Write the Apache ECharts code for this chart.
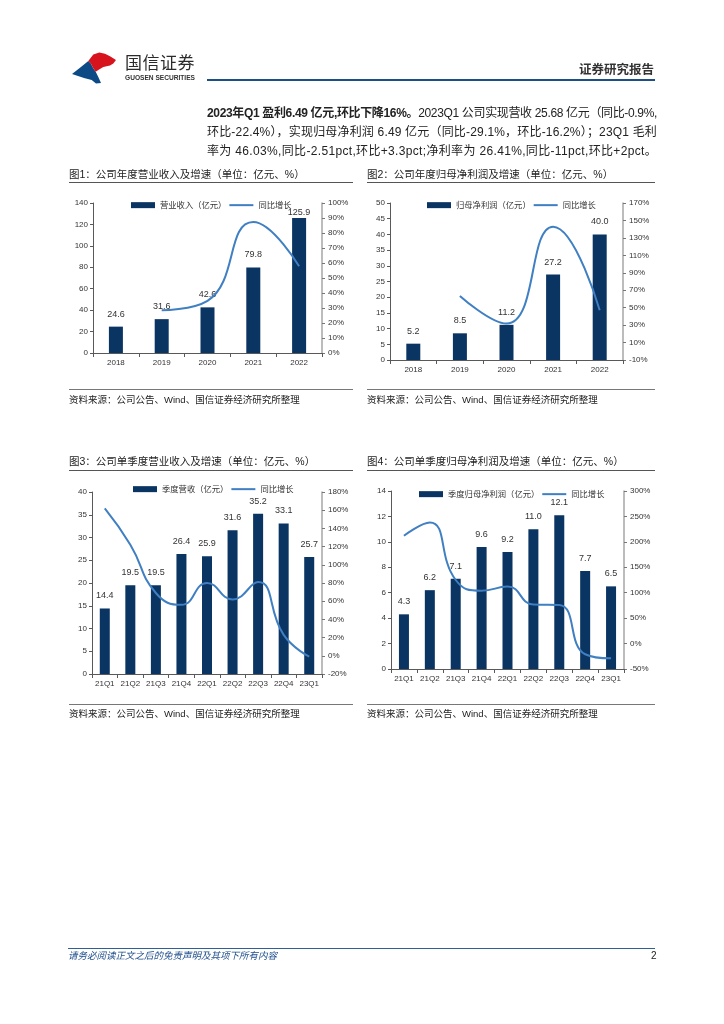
<!DOCTYPE html>
<html>
<head>
<meta charset="utf-8">
<script src="https://cdn.jsdelivr.net/npm/echarts@6/dist/echarts.min.js"></script>
<style>
html,body{margin:0;padding:0;background:#fff;}
#page{position:relative;width:724px;height:1024px;overflow:hidden;font-family:"Liberation Sans","Noto Sans CJK SC",sans-serif;color:#222;}
#chart{position:absolute;left:0;top:0;width:724px;height:1024px;}
.t{position:absolute;white-space:nowrap;line-height:1;}
.para{position:absolute;left:207px;font-size:12px;line-height:1;white-space:nowrap;color:#222;}
.hr{position:absolute;height:0;}
</style>
</head>
<body>
<div id="page">
  <div id="chart"></div>
</div>
<script>
// ---------- data ----------
var years = ['2018', '2019', '2020', '2021', '2022'];
var annualRevenue = [24.6, 31.6, 42.6, 79.8, 125.9];
var annualRevenueYoY = [null, 28.5, 34.8, 87.3, 57.8];
var annualProfit = [5.2, 8.5, 11.2, 27.2, 40.0];
var annualProfitYoY = [null, 63.5, 31.8, 142.9, 47.1];
var quarters = ['21Q1', '21Q2', '21Q3', '21Q4', '22Q1', '22Q2', '22Q3', '22Q4', '23Q1'];
var quarterRevenue = [14.4, 19.5, 19.5, 26.4, 25.9, 31.6, 35.2, 33.1, 25.7];
var quarterRevenueYoY = [162, 122, 69, 56, 80, 62, 81, 23, -0.9];
var quarterProfit = [4.3, 6.2, 7.1, 9.6, 9.2, 11.0, 12.1, 7.7, 6.5];
var quarterProfitYoY = [212, 238, 125, 104, 112, 77, 76, -21, -29.1];

var seriesNames = [
  ['营业收入（亿元）', '同比增长'],
  ['归母净利润（亿元）', '同比增长'],
  ['季度营收（亿元）', '同比增长'],
  ['季度归母净利润（亿元）', '同比增长']
];
var chartTitles = [
  '图1：公司年度营业收入及增速（单位：亿元、%）',
  '图2：公司年度归母净利润及增速（单位：亿元、%）',
  '图3：公司单季度营业收入及增速（单位：亿元、%）',
  '图4：公司单季度归母净利润及增速（单位：亿元、%）'
];
var sourceText = '资料来源：公司公告、Wind、国信证券经济研究所整理';
var leftAxes = [[0, 140, 20], [0, 50, 5], [0, 40, 5], [0, 14, 2]];
var rightTicks = [
  [0, 10, 20, 30, 40, 50, 60, 70, 80, 90, 100],
  [-10, 10, 30, 50, 70, 90, 110, 130, 150, 170],
  [-20, 0, 20, 40, 60, 80, 100, 120, 140, 160, 180],
  [-50, 0, 50, 100, 150, 200, 250, 300]
];
var paraLines = [
  '<b>2023年Q1 盈利6.49 亿元,环比下降16%。</b>2023Q1 公司实现营收 25.68 亿元（同比-0.9%,',
  '环比-22.4%），实现归母净利润 6.49 亿元（同比-29.1%，环比-16.2%）；23Q1 毛利',
  '率为 46.03%,同比-2.51pct,环比+3.3pct;净利率为 26.41%,同比-11pct,环比+2pct。'
];

// ---------- page text (HTML) ----------
var page = document.getElementById('page');
function addText(html, left, top, style) {
  var d = document.createElement('div');
  d.className = 't';
  d.innerHTML = html;
  d.style.left = left + 'px';
  d.style.top = top + 'px';
  if (style) d.setAttribute('style', d.getAttribute('style') + ';' + style);
  page.appendChild(d);
  return d;
}
function addLine(x1, x2, y, color, w) {
  var d = document.createElement('div');
  d.className = 'hr';
  d.style.left = x1 + 'px';
  d.style.width = (x2 - x1) + 'px';
  d.style.top = (y - w / 2) + 'px';
  d.style.borderTop = w + 'px solid ' + color;
  page.appendChild(d);
}
// header
addText('国信证券', 125, 53, 'font-size:17px;color:#2b2b2b;letter-spacing:0.5px;font-family:"Noto Sans CJK SC";');
addText('GUOSEN SECURITIES', 125, 75, 'font-size:6.6px;font-weight:bold;color:#333;');
addText('证券研究报告', 579, 63, 'font-size:12.5px;font-weight:bold;color:#333;font-family:"Noto Sans CJK SC";');
addLine(207, 655, 80, '#1d4f86', 2.5);
// paragraph, each line fitted to the column width
var paraWidth = 450;
paraLines.forEach(function (s, i) {
  var d = document.createElement('div');
  d.className = 'para';
  d.style.top = (107 + i * 19) + 'px';
  d.innerHTML = s;
  page.appendChild(d);
  var w = d.getBoundingClientRect().width;
  var n = d.textContent.length;
  d.style.letterSpacing = ((paraWidth - w) / n) + 'px';
});
// chart titles / source
var blocks = [
  {x: 69, x2: 353, ty: 169, uy: 183, sy: 390, st: 395},
  {x: 367, x2: 655, ty: 169, uy: 183, sy: 390, st: 395},
  {x: 69, x2: 353, ty: 456, uy: 471, sy: 705, st: 709},
  {x: 367, x2: 655, ty: 456, uy: 471, sy: 705, st: 709}
];
blocks.forEach(function (b, i) {
  addText(chartTitles[i], b.x, b.ty, 'font-size:10.5px;color:#222;');
  addLine(b.x, b.x2, b.uy, '#555', 1.2);
  addLine(b.x, b.x2, b.sy, '#777', 1.5);
  addText(sourceText, b.x, b.st, 'font-size:9.5px;color:#222;');
});
// footer
addLine(68, 655, 948, '#2e6096', 1);
addText('请务必阅读正文之后的免责声明及其项下所有内容', 68, 951, 'font-size:9.5px;font-style:italic;color:#1f4e8c;');
addText('2', 651, 951, 'font-size:10px;color:#222;');

// ---------- chart ----------
var chart = echarts.init(document.getElementById('chart'), null, {renderer: 'canvas'});
var BAR = '#0a3462';
var LINE = '#3f7fc2';
var grids = [
  {left: 93, top: 203, width: 229, height: 150},
  {left: 390, top: 203, width: 233, height: 157},
  {left: 92, top: 492, width: 230, height: 182},
  {left: 391, top: 491, width: 233, height: 178}
];
var cats = [years, years, quarters, quarters];
var barData = [annualRevenue, annualProfit, quarterRevenue, quarterProfit];
var lineData = [annualRevenueYoY, annualProfitYoY, quarterRevenueYoY, quarterProfitYoY];
var barWidths = [14, 14, 10, 10];
var legendPos = [[131, 201], [427, 201], [133, 485], [419, 490]];
var lineIcon = 'path://M0,0 L0,0 M0,2 L24,2 L24,4 L0,4 Z M24,6 L24,6';

var xAxes = [], yAxes = [], series = [], legends = [];
var axisFont = {fontSize: 8, color: '#333', fontFamily: 'Liberation Sans'};
for (var i = 0; i < 4; i++) {
  xAxes.push({
    type: 'category', gridIndex: i, data: cats[i],
    axisLine: {lineStyle: {color: '#595959', width: 1}},
    axisTick: {show: true, length: 4, lineStyle: {color: '#595959'}},
    axisLabel: Object.assign({margin: 6}, axisFont)
  });
  yAxes.push({
    type: 'value', gridIndex: i, position: 'left',
    min: leftAxes[i][0], max: leftAxes[i][1], interval: leftAxes[i][2],
    axisLine: {show: true, lineStyle: {color: '#595959', width: 1}},
    axisTick: {show: true, length: 3, lineStyle: {color: '#595959'}},
    axisLabel: Object.assign({margin: 5}, axisFont),
    splitLine: {show: false}
  });
  var rt = rightTicks[i];
  yAxes.push({
    type: 'value', gridIndex: i, position: 'right',
    min: rt[0], max: rt[rt.length - 1],
    axisLine: {show: true, lineStyle: {color: '#a6a6a6', width: 1.5}},
    axisTick: {show: true, length: 3, customValues: rt, lineStyle: {color: '#777'}},
    axisLabel: Object.assign({margin: 6, customValues: rt, formatter: '{value}%'}, axisFont),
    splitLine: {show: false}
  });
  // labels that would leave the plot area are kept just inside it (as in the source)
  var maxV = leftAxes[i][1];
  var items = barData[i].map(function (v) {
    return v / maxV > 0.89 ? {value: v, label: {distance: 1}} : v;
  });
  series.push({
    name: seriesNames[i][0], type: 'bar', xAxisIndex: i, yAxisIndex: i * 2,
    data: items, barWidth: barWidths[i],
    itemStyle: {color: BAR},
    label: {
      show: true, position: 'top', distance: 8,
      fontSize: 9, color: '#333', fontFamily: 'Liberation Sans',
      formatter: function (p) { return Number(p.value).toFixed(1); }
    },
    z: 2
  });
  series.push({
    name: seriesNames[i][1], type: 'line', xAxisIndex: i, yAxisIndex: i * 2 + 1,
    data: lineData[i], smooth: 0.5, symbol: 'none',
    lineStyle: {color: LINE, width: 2}, itemStyle: {color: LINE},
    z: 3
  });
  legends.push({
    left: legendPos[i][0], top: legendPos[i][1],
    orient: 'horizontal', itemWidth: 24, itemHeight: 6, itemGap: 3,
    padding: 0,
    textStyle: {fontSize: 8.3, color: '#333', fontFamily: 'Noto Sans CJK SC'},
    data: [{name: seriesNames[i][0], icon: 'rect'}, {name: seriesNames[i][1], icon: lineIcon}]
  });
}

// logo shapes
var graphics = [
  {type: 'polygon', shape: {points: [[72, 74], [80, 67.7], [88.3, 61], [90.7, 63.3], [93.3, 68.3], [95.7, 71.7], [98.3, 77], [101, 83], [96, 83.5], [91.7, 80], [84, 78]]}, style: {fill: '#0c4a86'}},
  {type: 'polygon', shape: {points: [[88.3, 61], [93.3, 54.5], [99.3, 52.5], [105, 53.8], [110, 56.2], [116, 60], [113.3, 63.5], [110, 65.5], [103.3, 67], [98.3, 70], [95.7, 71.7], [93.3, 68.3], [90.7, 63.3]]}, style: {fill: '#d7141e'}}
];

chart.setOption({
  animation: false,
  textStyle: {fontFamily: 'Liberation Sans, Noto Sans CJK SC'},
  grid: grids,
  xAxis: xAxes,
  yAxis: yAxes,
  legend: legends,
  series: series,
  graphic: graphics
});
</script>
</body>
</html>
